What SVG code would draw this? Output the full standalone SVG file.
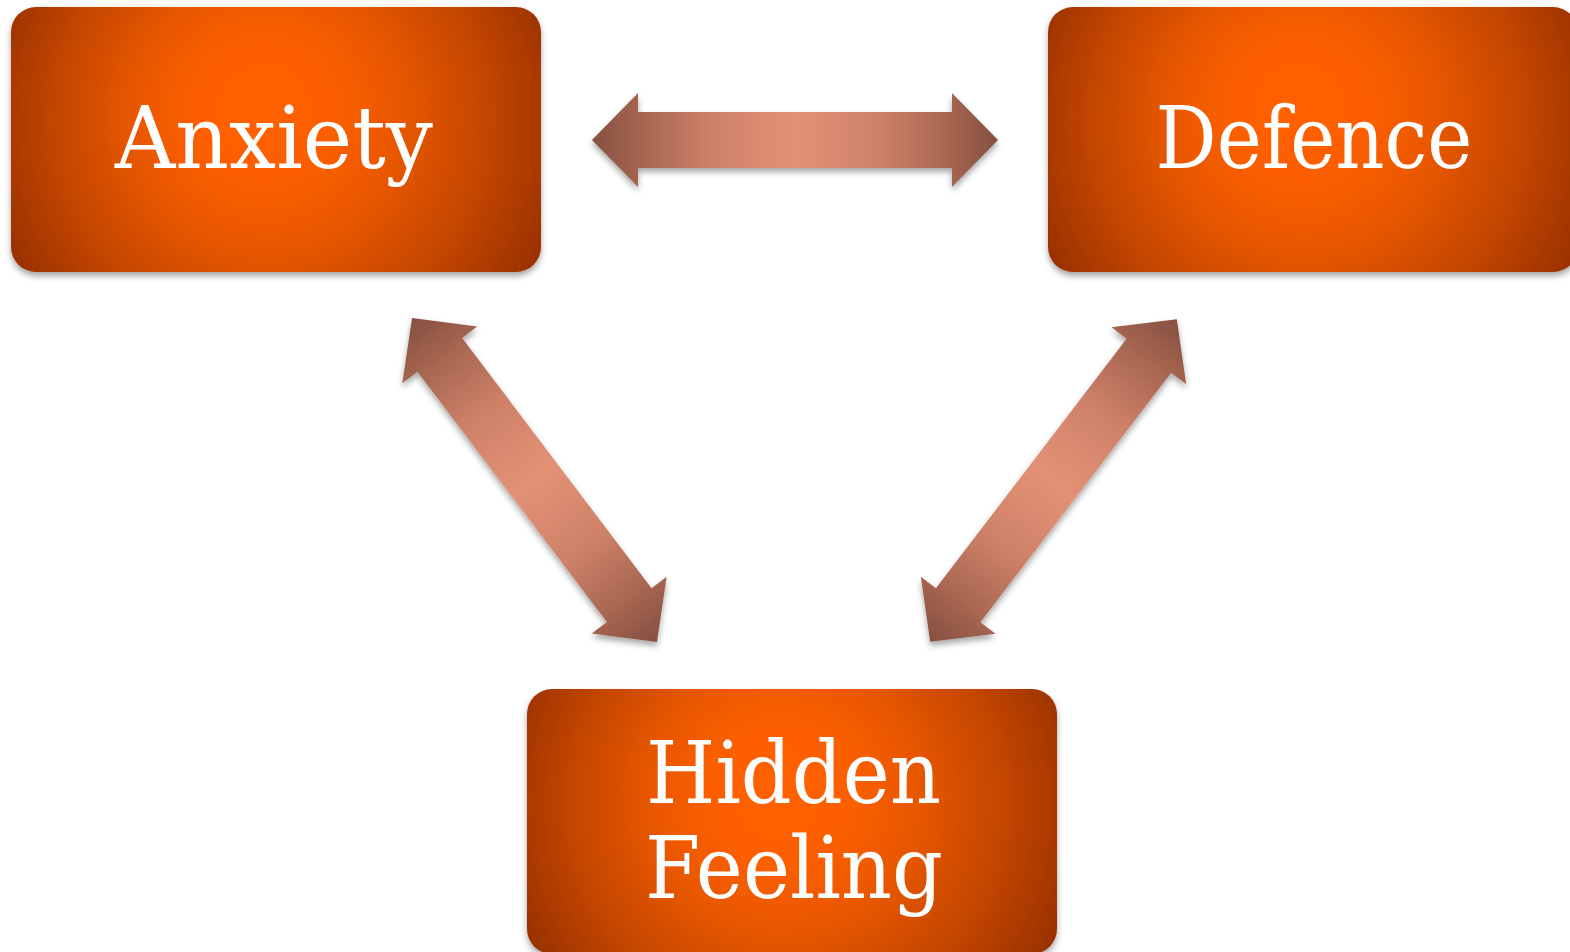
<svg xmlns="http://www.w3.org/2000/svg" width="1570" height="952" viewBox="0 0 1570 952">
  <defs>
    <radialGradient id="boxFill" cx="0.5" cy="0.47" r="0.56" fx="0.47" fy="0.44" gradientTransform="matrix(1 0 0 2 0 -0.5)">
      <stop offset="0" stop-color="#FF6000"/>
      <stop offset="0.22" stop-color="#FD5F00"/>
      <stop offset="0.45" stop-color="#E85700"/>
      <stop offset="0.75" stop-color="#C04400"/>
      <stop offset="1" stop-color="#983100"/>
    </radialGradient>
    <linearGradient id="arrowFill" gradientUnits="userSpaceOnUse" x1="-203" y1="0" x2="203" y2="0">
      <stop offset="0" stop-color="#855040"/>
      <stop offset="0.12" stop-color="#A66550"/>
      <stop offset="0.3" stop-color="#CF8269"/>
      <stop offset="0.5" stop-color="#E29175"/>
      <stop offset="0.7" stop-color="#CF8269"/>
      <stop offset="0.88" stop-color="#A66550"/>
      <stop offset="1" stop-color="#855040"/>
    </linearGradient>
    <filter id="shadow" x="-20%" y="-20%" width="140%" height="140%">
      <feGaussianBlur in="SourceAlpha" stdDeviation="3"/>
      <feOffset dx="0" dy="4" result="b"/>
      <feFlood flood-color="#000000" flood-opacity="0.35"/>
      <feComposite in2="b" operator="in"/>
      <feMerge>
        <feMergeNode/>
        <feMergeNode in="SourceGraphic"/>
      </feMerge>
    </filter>
    <path id="dblArrow" d="M -203 0 L -157 -47 L -157 -28 L 157 -28 L 157 -47 L 203 0 L 157 47 L 157 28 L -157 28 L -157 47 Z"/>
  </defs>
  <style>
    .box { fill: url(#boxFill); }
    .label { font-family: "DejaVu Serif", "Liberation Serif", serif; font-size: 86px; fill: #FFFFFF; text-anchor: middle; }
    .arrow { fill: url(#arrowFill); }
  </style>
  <rect width="1570" height="952" fill="#FFFFFF"/>

  <g id="connectors">
    <g filter="url(#shadow)">
      <use href="#dblArrow" class="arrow" transform="translate(795 140)"/>
    </g>
    <g filter="url(#shadow)">
      <use href="#dblArrow" class="arrow" transform="translate(534.5 480) rotate(52.9)"/>
    </g>
    <g filter="url(#shadow)">
      <use href="#dblArrow" class="arrow" transform="translate(1053.5 480.5) rotate(-52.6)"/>
    </g>
  </g>

  <g id="node-anxiety" filter="url(#shadow)">
    <rect class="box" x="11" y="7" width="530" height="265" rx="25" ry="25"/>
    <text class="label" x="274" y="168" textLength="318" lengthAdjust="spacingAndGlyphs">Anxiety</text>
  </g>

  <g id="node-defence" filter="url(#shadow)">
    <rect class="box" x="1048" y="7" width="530" height="265" rx="25" ry="25"/>
    <text class="label" x="1314" y="168" textLength="317" lengthAdjust="spacingAndGlyphs">Defence</text>
  </g>

  <g id="node-hidden-feeling" filter="url(#shadow)">
    <rect class="box" x="527" y="689" width="530" height="265" rx="25" ry="25"/>
    <text class="label" x="793.5" y="803" textLength="295" lengthAdjust="spacingAndGlyphs">Hidden</text>
    <text class="label" x="794" y="898" textLength="298" lengthAdjust="spacingAndGlyphs">Feeling</text>
  </g>
</svg>
